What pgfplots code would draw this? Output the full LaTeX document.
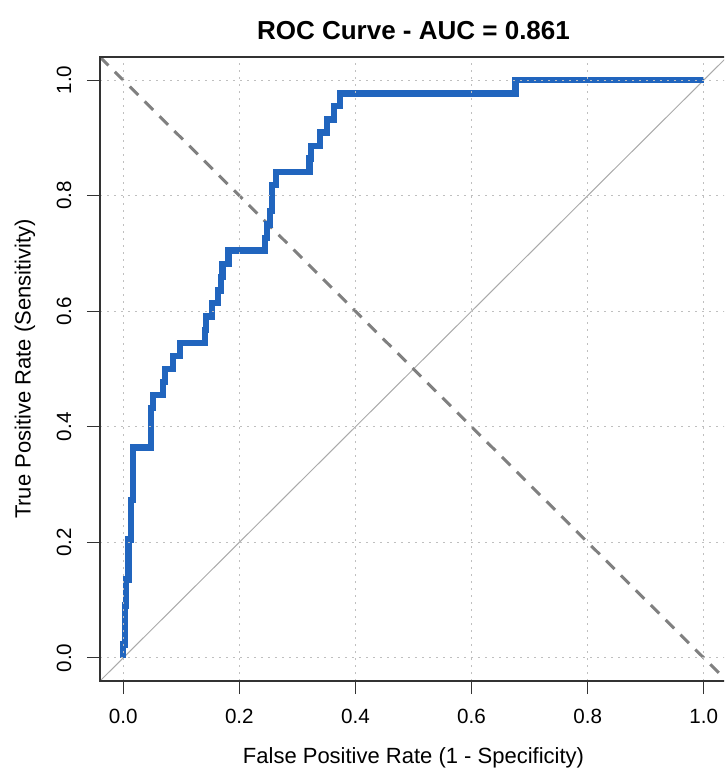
\documentclass[border=0pt]{standalone}
\usepackage{fontspec}
\setmainfont{Liberation Sans}
\usepackage{pgfplots}
\pgfplotsset{compat=1.18}
\definecolor{roc}{RGB}{33,101,190}
\begin{document}
\begin{tikzpicture}
\useasboundingbox (-50pt,-45.5pt) rectangle (312pt,340.5pt);
\clip (-50pt,-45.5pt) rectangle (312pt,340.5pt);
\begin{axis}[
  at={(0,0)}, anchor=south west,
  scale only axis, width=313.5pt, height=312pt,
  xmin=-0.04, xmax=1.04, ymin=-0.04, ymax=1.04,
  xtick={0,0.2,0.4,0.6,0.8,1}, ytick={0,0.2,0.4,0.6,0.8,1},
  xtick pos=left, ytick pos=left,
  tick align=outside, major tick length=6.5pt,
  tick style={black!80, line width=0.6pt},
  axis line style={black!80, line width=0.75pt},
  grid=major,
  major grid style={lightgray, line width=0.5pt, dash pattern=on 1pt off 2.5pt},
  axis on top,
  /pgf/number format/assume math mode=true,
  /pgf/number format/.cd, fixed, fixed zerofill, precision=1, /pgfplots/.cd,
  ticklabel style={font=\fontsize{10.3}{12}\selectfont},
  xticklabel style={anchor=center, yshift=-11pt},
  yticklabel style={rotate=90, anchor=center, yshift=11.5pt},
  xlabel={False Positive Rate (1 - Specificity)},
  ylabel={True Positive Rate (Sensitivity)},
  label style={font=\fontsize{11}{13}\selectfont},
  xlabel style={at={(axis description cs:0.5,0)}, anchor=center, yshift=-38.5pt},
  ylabel style={at={(axis description cs:0,0.5)}, anchor=center, yshift=37.5pt},
  title={ROC Curve - AUC = 0.861},
  title style={font=\fontsize{13}{15}\selectfont\bfseries, at={(axis description cs:0.5,1)}, anchor=center, yshift=7pt},
]
\addplot[color={rgb,255:red,170;green,170;blue,170}, line width=0.5pt] coordinates {(-0.04,-0.04) (1.04,1.04)};
\addplot[color={rgb,255:red,128;green,128;blue,128}, line width=1.5pt, dash pattern=on 6pt off 4.5pt] coordinates {(-0.04,1.04) (1.04,-0.04)};
\addplot[roc, line width=3.2pt, line join=miter] coordinates {
(0,0) (0,0.023) (0.0034,0.023) (0.0034,0.091) (0.0052,0.091) (0.0052,0.136)
(0.009,0.136) (0.009,0.205) (0.0133,0.205) (0.0133,0.273) (0.0172,0.273)
(0.0172,0.364) (0.0477,0.364) (0.0477,0.432) (0.0511,0.432) (0.0511,0.455)
(0.0688,0.455) (0.0688,0.477) (0.0723,0.477) (0.0723,0.5) (0.0855,0.5)
(0.0855,0.523) (0.0981,0.523) (0.0981,0.545) (0.141,0.545) (0.141,0.568)
(0.143,0.568) (0.143,0.591) (0.153,0.591) (0.153,0.614) (0.1635,0.614)
(0.1635,0.636) (0.168,0.636) (0.168,0.659) (0.171,0.659) (0.171,0.682)
(0.1816,0.682) (0.1816,0.705) (0.2444,0.705) (0.2444,0.727) (0.2478,0.727)
(0.2478,0.75) (0.253,0.75) (0.253,0.773) (0.256,0.773) (0.256,0.818)
(0.2633,0.818) (0.2633,0.841) (0.321,0.841) (0.321,0.864) (0.3236,0.864)
(0.3236,0.886) (0.339,0.886) (0.339,0.909) (0.351,0.909) (0.351,0.932)
(0.363,0.932) (0.363,0.955) (0.373,0.955) (0.373,0.977) (0.6756,0.977)
(0.6756,1) (1,1)
};
\end{axis}
\end{tikzpicture}
\end{document}
